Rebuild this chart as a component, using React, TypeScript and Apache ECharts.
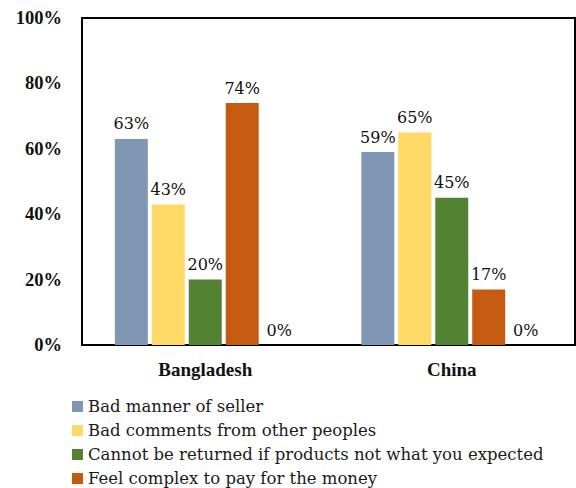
import React, { useEffect, useRef } from "react";
import * as echarts from "echarts";

const categories = ["Bangladesh", "China"];
const seriesNames = [
  "Bad manner of seller",
  "Bad comments from other peoples",
  "Cannot be returned if products not what you expected",
  "Feel complex to pay for the money",
];
const badManner = [63, 59];
const badComments = [43, 65];
const cannotReturn = [20, 45];
const feelComplex = [74, 17];
const extraZero = [0, 0];
const colors = ["#7F97B3", "#FFD966", "#548235", "#C55A11"];
const yTicks = [0, 20, 40, 60, 80, 100];

const BOLD_FONT = "Liberation Serif";
const REG_FONT = "DejaVu Serif";

export default function App() {
  const ref = useRef<HTMLDivElement>(null);
  useEffect(() => {
    if (!ref.current) return;
    const chart = echarts.init(ref.current, undefined, { renderer: "svg" });
    const values = [badManner, badComments, cannotReturn, feelComplex];
    const label = {
      show: true,
      position: "top",
      distance: 7,
      formatter: "{c}%",
      fontFamily: REG_FONT,
      fontSize: 16,
      color: "#111",
    };
    const series: any[] = values.map((v, i) => ({
      name: seriesNames[i],
      type: "bar",
      data: v,
      barWidth: 33,
      barGap: "12%",
      itemStyle: { color: colors[i] },
      label,
    }));
    series.push({
      name: "extra",
      type: "bar",
      data: extraZero,
      barWidth: 33,
      barGap: "12%",
      itemStyle: { color: "transparent" },
      label,
    });
    chart.setOption({
      animation: false,
      grid: {
        left: 82,
        right: 1,
        top: 18,
        bottom: 143,
        show: true,
        borderColor: "#000",
        borderWidth: 2,
      },
      legend: {
        data: seriesNames,
        orient: "vertical",
        left: 72,
        top: 398,
        height: 110,
        itemWidth: 11,
        itemHeight: 11,
        itemGap: 7,
        icon: "rect",
        padding: 0,
        textStyle: { fontFamily: REG_FONT, fontSize: 16.5, color: "#1a1a1a" },
      },
      xAxis: {
        type: "category",
        data: categories,
        axisLine: { show: true, lineStyle: { color: "#000", width: 2 } },
        axisTick: { show: false },
        axisLabel: {
          margin: 15,
          fontFamily: BOLD_FONT,
          fontSize: 19,
          fontWeight: "bold",
          color: "#111",
        },
      },
      yAxis: {
        type: "value",
        min: yTicks[0],
        max: yTicks[yTicks.length - 1],
        interval: 20,
        splitLine: { show: false },
        axisLine: { show: false },
        axisTick: { show: false },
        axisLabel: {
          margin: 20,
          formatter: "{value}%",
          fontFamily: BOLD_FONT,
          fontSize: 18.5,
          fontWeight: "bold",
          color: "#111",
        },
      },
      series,
    });
    return () => chart.dispose();
  }, []);
  return (
    <div
      ref={ref}
      style={{ position: "absolute", left: 0, top: 0, width: 576, height: 488, background: "#fff" }}
    />
  );
}
